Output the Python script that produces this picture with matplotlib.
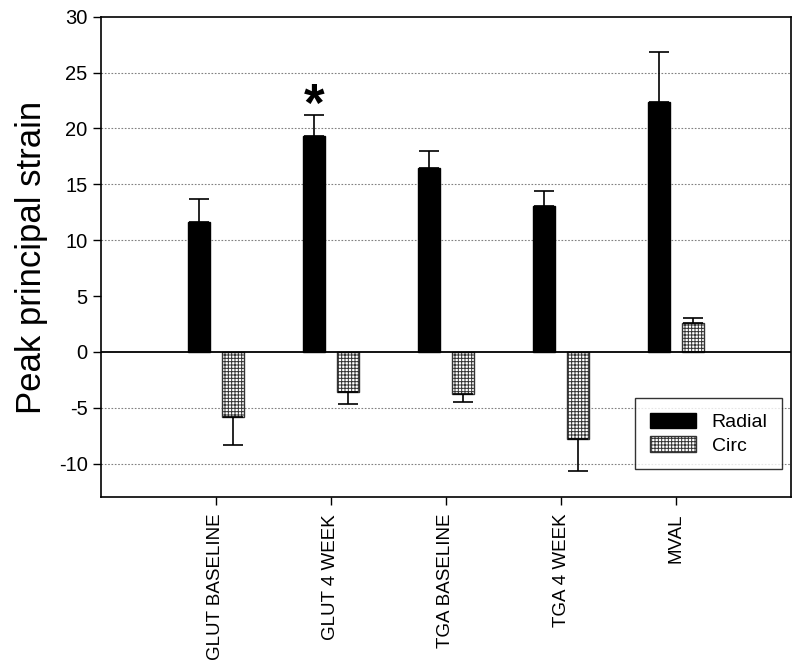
import matplotlib
matplotlib.use('Agg')
import matplotlib.pyplot as plt
import numpy as np

plt.rcParams['font.family'] = ['Liberation Sans', 'DejaVu Sans']
plt.rcParams['axes.unicode_minus'] = False
plt.rcParams['hatch.linewidth'] = 0.7

categories = ['GLUT BASELINE', 'GLUT 4 WEEK', 'TGA BASELINE', 'TGA 4 WEEK', 'MVAL']
radial = [11.6, 19.3, 16.5, 13.1, 22.4]
radial_err = [2.1, 1.9, 1.5, 1.3, 4.4]
circ = [-5.8, -3.6, -3.8, -7.8, 2.6]
circ_err = [2.5, 1.1, 0.7, 2.9, 0.4]
grid_levels = [25, 20, 15, 10, -5, -10]
star_y = 19.7

x = np.arange(len(categories))
off = 0.15
w = 0.19

fig = plt.figure(figsize=(8, 6.7), dpi=100)
ax = fig.add_axes([0.126, 0.258, 0.863, 0.717])

for g in grid_levels:
    ax.axhline(g, color='grey', linestyle=(0, (1.5, 1.5)), linewidth=0.8, zorder=0)
ax.axhline(0, color='black', linewidth=1.3, zorder=3)

# one-sided error bars, pointing away from zero
ekw = dict(ecolor='black', elinewidth=1.2, capsize=7.5, capthick=1.2)
ax.bar(x - off, radial, w, color='black', edgecolor='black', label='Radial', zorder=2,
       yerr=[[0] * len(radial), radial_err], error_kw=ekw)
c_err = [[e if v < 0 else 0 for v, e in zip(circ, circ_err)],
         [e if v > 0 else 0 for v, e in zip(circ, circ_err)]]
ax.bar(x + off, circ, w, color='white', edgecolor='#333333', hatch='+++++', linewidth=1.0,
       label='Circ', zorder=2, yerr=c_err, error_kw=ekw)

ax.text(x[1] - off, star_y, '*', ha='center', va='bottom', fontsize=38, fontweight='bold')

ax.set_xlim(-1, 5)
ax.set_ylim(-13, 30)
ax.set_yticks(np.arange(-10, 31, 5))
ax.set_xticks(x)
ax.set_xticklabels(categories, rotation=90, fontsize=13.5)
ax.tick_params(axis='y', labelsize=14.5, direction='out', length=6, width=1)
ax.tick_params(axis='x', direction='out', length=6, width=1, pad=6)
for s in ax.spines.values():
    s.set_linewidth(1.2)
ax.set_ylabel('Peak principal strain', fontsize=25, labelpad=8)

leg = ax.legend(loc='lower right', bbox_to_anchor=(0.987, 0.058), borderaxespad=0,
                fontsize=14, frameon=True, fancybox=False, edgecolor='black',
                handlelength=2.4, handleheight=0.85, handletextpad=0.8,
                borderpad=0.75, labelspacing=0.25)
leg.get_frame().set_linewidth(1.0)

fig.savefig('out.png', dpi=100)
